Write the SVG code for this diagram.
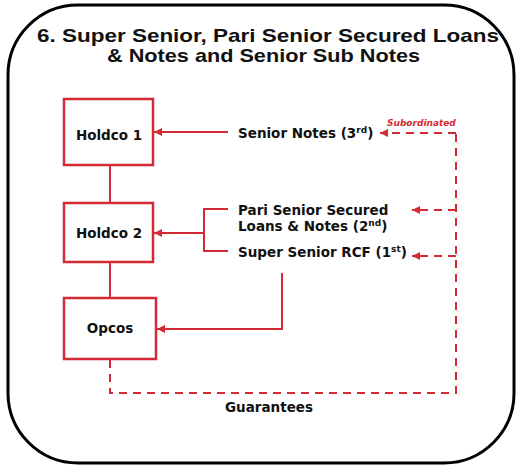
<svg xmlns="http://www.w3.org/2000/svg" width="517" height="465" viewBox="0 0 517 465">
  <defs>
    <marker id="arr" viewBox="0 0 8 8" refX="8" refY="4" markerWidth="8" markerHeight="8" markerUnits="userSpaceOnUse" orient="auto">
      <path d="M0,0 L8,4 L0,8 z" fill="#d42a35"/>
    </marker>
  </defs>
  <style>
    .frame { fill: #ffffff; stroke: #000000; stroke-width: 3; }
    .title { font-family: "Liberation Sans", Arial, sans-serif; font-weight: bold; font-size: 19px; fill: #111; }
    .box { fill: #ffffff; stroke: #d42a35; stroke-width: 2.5; }
    .lbl { font-family: "DejaVu Sans", Verdana, sans-serif; font-weight: bold; font-size: 13.5px; fill: #111; }
    .sup { font-size: 9px; }
    .ctr { text-anchor: middle; }
    .line { fill: none; stroke: #d42a35; stroke-width: 2; }
    .dash { fill: none; stroke: #d42a35; stroke-width: 2; stroke-dasharray: 8 6; }
    .sub { font-family: "DejaVu Sans", Verdana, sans-serif; font-weight: bold; font-style: italic; font-size: 9px; fill: #d42a35; }
  </style>

  <rect class="frame" x="8" y="5" width="506" height="458" rx="70" ry="70"/>

  <text class="title" x="37" y="42" textLength="462" lengthAdjust="spacingAndGlyphs">6. Super Senior, Pari Senior Secured Loans</text>
  <text class="title" x="107" y="62" textLength="313" lengthAdjust="spacingAndGlyphs">&amp; Notes and Senior Sub Notes</text>

  <g id="connectors">
    <!-- structural links between entities -->
    <path class="line" d="M110,165 V203"/>
    <path class="line" d="M110,262 V298"/>
    <!-- debt instruments into issuers -->
    <path class="line" d="M228,132 H154" marker-end="url(#arr)"/>
    <path class="line" d="M228,209 H204 V251 H228"/>
    <path class="line" d="M204,233 H154" marker-end="url(#arr)"/>
    <path class="line" d="M282,273 V329 H157" marker-end="url(#arr)"/>
    <!-- guarantees loop -->
    <path class="dash" d="M110,360 V393 H456 V133"/>
    <path class="dash" d="M456,133 H380" marker-end="url(#arr)"/>
    <path class="dash" d="M456,210 H412" marker-end="url(#arr)"/>
    <path class="dash" d="M456,256 H412" marker-end="url(#arr)"/>
  </g>

  <g id="holdco1">
    <rect class="box" x="64" y="99" width="89" height="66"/>
    <text class="lbl ctr" x="109" y="140">Holdco 1</text>
  </g>
  <g id="holdco2">
    <rect class="box" x="64" y="203" width="89" height="59"/>
    <text class="lbl ctr" x="109" y="238">Holdco 2</text>
  </g>
  <g id="opcos">
    <rect class="box" x="64" y="298" width="92" height="61"/>
    <text class="lbl ctr" x="110" y="333">Opcos</text>
  </g>

  <g id="senior-notes">
    <text class="lbl" x="238" y="138">Senior Notes (3<tspan class="sup" dy="-5">rd</tspan><tspan dy="5">)</tspan></text>
  </g>
  <g id="pari-senior">
    <text class="lbl" x="238" y="215">Pari Senior Secured</text>
    <text class="lbl" x="238" y="231">Loans &amp; Notes (2<tspan class="sup" dy="-5">nd</tspan><tspan dy="5">)</tspan></text>
  </g>
  <g id="super-senior">
    <text class="lbl" x="238" y="257">Super Senior RCF (1<tspan class="sup" dy="-5">st</tspan><tspan dy="5">)</tspan></text>
  </g>

  <text class="sub" x="387" y="126">Subordinated</text>
  <text class="lbl ctr" x="269" y="412">Guarantees</text>
</svg>
